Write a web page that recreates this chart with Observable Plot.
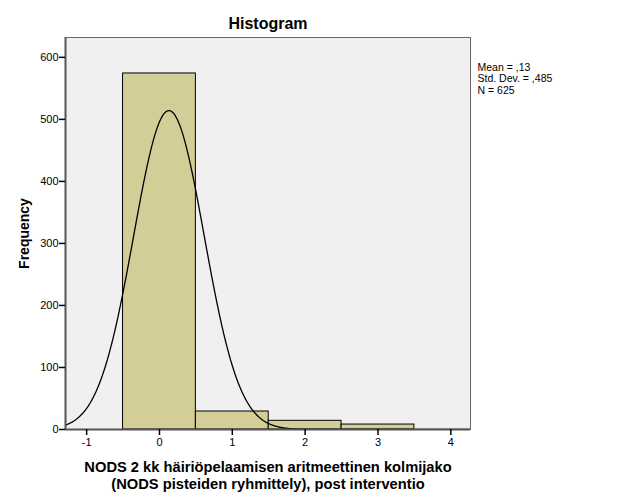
<!DOCTYPE html>
<html><head><meta charset="utf-8">
<script src="https://cdn.jsdelivr.net/npm/d3@7"></script>
<script src="https://cdn.jsdelivr.net/npm/@observablehq/plot@0.6"></script>
<style>body{margin:0;background:#fff}</style>
</head><body><div id="chart"></div>
<script>
const categories = [0, 1, 2, 3];
const counts = [574, 29, 14, 8];
const meanValue = 0.13;
const sdValue = 0.485;
const nValue = 625;
const xTicks = [-1, 0, 1, 2, 3, 4];
const yTicks = [0, 100, 200, 300, 400, 500, 600];
const statLines = ["Mean = ,13", "Std. Dev. = ,485", "N = 625"];
const xLabelLines = ["NODS 2 kk häiriöpelaamisen aritmeettinen kolmijako", "(NODS pisteiden ryhmittely), post interventio"];

const bars = categories.map((c, i) => ({x1: c - 0.5, x2: c + 0.5, count: counts[i]}));
// fitted normal curve from the reported mean / sd / N (bin width 1)
const curve = d3.range(-1.29, 4.27, 0.01).map(x => ({
  x, y: nValue / (sdValue * Math.sqrt(2 * Math.PI)) * Math.exp(-0.5 * ((x - meanValue) / sdValue) ** 2)
}));

const font = "Liberation Sans, Arial, sans-serif";
const chart = Plot.plot({
  width: 629, height: 504,
  marginLeft: 65, marginRight: 159, marginTop: 37, marginBottom: 75,
  style: {fontFamily: font, background: "#fff", color: "#000"},
  x: {domain: [-1.29, 4.27]},
  y: {domain: [0, 632]},
  marks: [
    Plot.frame({fill: "#f0f0f0"}),
    Plot.rectY(bars, {x1: "x1", x2: "x2", y: "count", fill: "#d3ce97", stroke: "#000", strokeWidth: 1}),
    Plot.line(curve, {x: "x", y: "y", stroke: "#000", strokeWidth: 1.3, clip: true}),
    Plot.frame({stroke: "#666", strokeWidth: 1}),
    Plot.ruleX([-1.29], {stroke: "#555", strokeWidth: 2}),
    Plot.ruleY([0], {stroke: "#555", strokeWidth: 2}),
    Plot.axisX({ticks: xTicks, tickSize: 6, tickPadding: 3, tickFormat: d => String(d), fontSize: 11, label: null, strokeWidth: 1.5}),
    Plot.axisY({ticks: yTicks, tickSize: 6, tickPadding: 1, tickFormat: d => String(d), fontSize: 11, label: null, strokeWidth: 1.5}),
    Plot.text(["Histogram"], {frameAnchor: "top", dy: -20, fontSize: 16, fontWeight: "bold"}),
    Plot.text(["Frequency"], {frameAnchor: "left", textAnchor: "middle", dx: -41, rotate: -90, fontSize: 14, fontWeight: "bold"}),
    Plot.text([xLabelLines[0]], {frameAnchor: "bottom", dy: 42, fontSize: 14.7, fontWeight: "bold"}),
    Plot.text([xLabelLines[1]], {frameAnchor: "bottom", dy: 59, fontSize: 14.7, fontWeight: "bold"}),
    Plot.text([statLines[0]], {frameAnchor: "top-right", textAnchor: "start", dx: 7, dy: 26, fontSize: 10.5}),
    Plot.text([statLines[1]], {frameAnchor: "top-right", textAnchor: "start", dx: 7, dy: 37.5, fontSize: 10.5}),
    Plot.text([statLines[2]], {frameAnchor: "top-right", textAnchor: "start", dx: 7, dy: 49, fontSize: 10.5})
  ]
});
document.getElementById("chart").appendChild(chart);
</script>
</body></html>
